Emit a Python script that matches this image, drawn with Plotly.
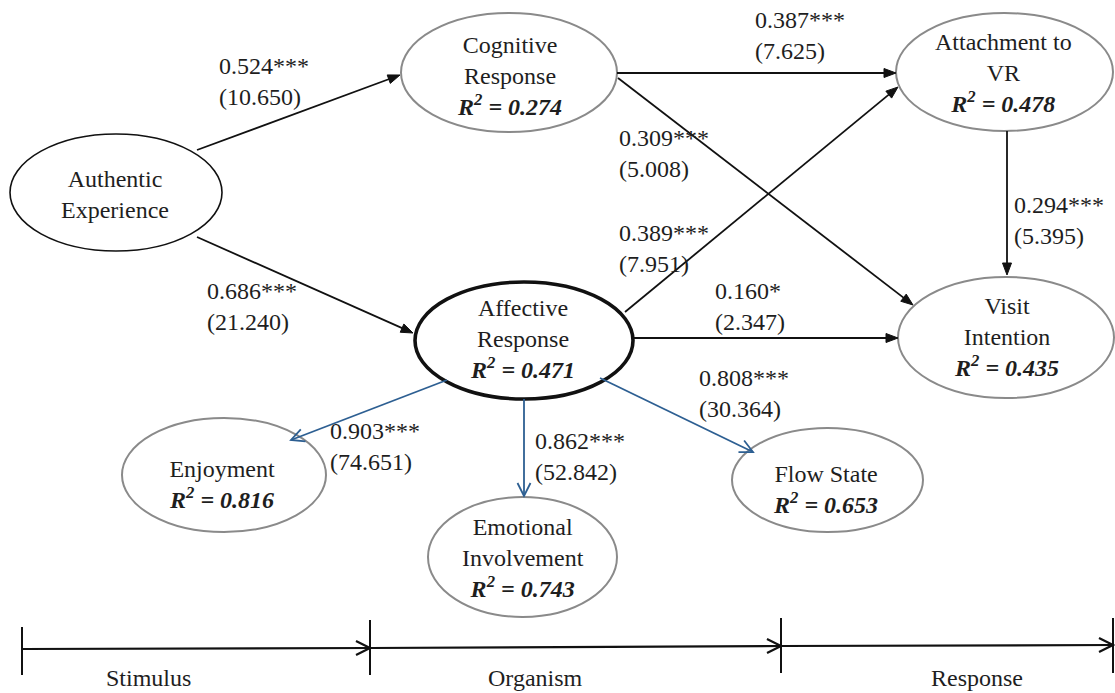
import math
import plotly.graph_objects as go

# ---------------- data ----------------
node_names = ["Authentic Experience", "Cognitive Response", "Affective Response",
              "Attachment to VR", "Visit Intention", "Enjoyment",
              "Emotional Involvement", "Flow State"]
node_lines = ["Authentic<br>Experience", "Cognitive<br>Response", "Affective<br>Response",
              "Attachment to<br>VR", "Visit<br>Intention", "Enjoyment",
              "Emotional<br>Involvement", "Flow State"]
node_r2 = [None, 0.274, 0.471, 0.478, 0.435, 0.816, 0.743, 0.653]

path_from = ["Authentic Experience", "Authentic Experience", "Cognitive Response",
             "Cognitive Response", "Affective Response", "Affective Response",
             "Attachment to VR", "Affective Response", "Affective Response",
             "Affective Response"]
path_to = ["Cognitive Response", "Affective Response", "Attachment to VR",
           "Visit Intention", "Attachment to VR", "Visit Intention",
           "Visit Intention", "Enjoyment", "Emotional Involvement", "Flow State"]
path_coef = [0.524, 0.686, 0.387, 0.309, 0.389, 0.160, 0.294, 0.903, 0.862, 0.808]
path_t = [10.650, 21.240, 7.625, 5.008, 7.951, 2.347, 5.395, 74.651, 52.842, 30.364]
path_sig = ["***", "***", "***", "***", "***", "*", "***", "***", "***", "***"]
path_kind = ["structural"] * 7 + ["measurement"] * 3

stages = ["Stimulus", "Organism", "Response"]

# ---------------- layout geometry (pixels) ----------------
W, H = 1115, 693
node_box = {
    "Authentic Experience": (10, 134, 222, 251),
    "Cognitive Response": (401, 13, 617, 132),
    "Affective Response": (415, 282, 633, 399),
    "Attachment to VR": (896, 13, 1113, 131),
    "Visit Intention": (898, 277, 1114, 398),
    "Enjoyment": (122, 418, 326, 532),
    "Emotional Involvement": (428, 497, 617, 617),
    "Flow State": (732, 428, 923, 532),
}
node_text_xy = {
    "Authentic Experience": (115, 194),
    "Cognitive Response": (509, 76),
    "Affective Response": (522, 339),
    "Attachment to VR": (1003, 73),
    "Visit Intention": (1006, 337),
    "Enjoyment": (222, 484),
    "Emotional Involvement": (523, 558),
    "Flow State": (825, 489),
}
node_style = {
    "Authentic Experience": ("#111111", 1.6),
    "Affective Response": ("#111111", 3.6),
}
default_node_style = ("#8a8a8a", 2.0)

# tail -> tip for each path
path_geom = [
    ((197, 150), (400, 75)),
    ((197, 237), (413, 333)),
    ((617, 73), (896, 73)),
    ((618, 78), (913, 305)),
    ((625, 312), (898, 87)),
    ((633, 338), (898, 338)),
    ((1007, 131), (1007, 275)),
    ((447, 380), (291, 440)),
    ((524, 399), (524, 496)),
    ((600, 378), (753, 452)),
]
label_xy = [(217, 58), (205, 283), (753, 12), (617, 130), (617, 225),
            (713, 283), (1012, 197), (328, 423), (533, 433), (697, 370)]

kind_color = {"structural": "#111111", "measurement": "#2d5f92"}

FONT = "Liberation Serif"
TXT = "#1e1e1e"
FS = 24

fig = go.Figure()
shapes = []
annotations = []


def add_arrow(tail, tip, color, width, filled, L=12, Wd=4.5):
    x0, y0 = tail
    x1, y1 = tip
    d = math.hypot(x1 - x0, y1 - y0)
    ux, uy = (x1 - x0) / d, (y1 - y0) / d
    bx, by = x1 - ux * L, y1 - uy * L
    px, py = -uy, ux
    lx, ly = bx + px * Wd, by + py * Wd
    rx, ry = bx - px * Wd, by - py * Wd
    end = (bx + ux * 2, by + uy * 2) if filled else (x1, y1)
    shapes.append(dict(type="line", xref="x", yref="y", x0=x0, y0=y0, x1=end[0], y1=end[1],
                       line=dict(color=color, width=width)))
    if filled:
        shapes.append(dict(type="path", xref="x", yref="y",
                           path=f"M{lx},{ly} L{x1},{y1} L{rx},{ry} Z",
                           fillcolor=color, line=dict(color=color, width=1)))
    else:
        shapes.append(dict(type="path", xref="x", yref="y",
                           path=f"M{lx},{ly} L{x1},{y1} L{rx},{ry}",
                           line=dict(color=color, width=width)))


# nodes
for name, lines, r2 in zip(node_names, node_lines, node_r2):
    x0, y0, x1, y1 = node_box[name]
    col, lw = node_style.get(name, default_node_style)
    shapes.append(dict(type="circle", xref="x", yref="y", x0=x0, y0=y0, x1=x1, y1=y1,
                       fillcolor="white", line=dict(color=col, width=lw), layer="below"))
    text = lines
    if r2 is not None:
        text += f"<br><b><i>R<sup>2</sup> = {r2:.3f}</i></b>"
    tx, ty = node_text_xy[name]
    annotations.append(dict(x=tx, y=ty, xref="x", yref="y", text=text, showarrow=False,
                            xanchor="center", yanchor="middle", align="center",
                            font=dict(family=FONT, size=FS, color=TXT)))

# paths
for i in range(len(path_coef)):
    tail, tip = path_geom[i]
    kind = path_kind[i]
    if kind == "structural":
        add_arrow(tail, tip, kind_color[kind], 1.8, True, L=12, Wd=4.5)
    else:
        add_arrow(tail, tip, kind_color[kind], 1.8, False, L=13, Wd=6.5)
    lx, ly = label_xy[i]
    annotations.append(dict(x=lx, y=ly - 7, xref="x", yref="y",
                            text=f"{path_coef[i]:.3f}{path_sig[i]}<br>({path_t[i]:.3f})",
                            showarrow=False, xanchor="left", yanchor="top", align="left",
                            font=dict(family=FONT, size=FS, color=TXT)))

# stage bar
stage_ticks = [(22, 627, 675, 649), (370, 620, 675, 648), (781, 618, 673, 646), (1113, 618, 673, 645)]
for (xa, _, _, ya), (xb, _, _, yb) in zip(stage_ticks[:-1], stage_ticks[1:]):
    add_arrow((xa, ya), (xb, yb), "#111111", 2.2, False, L=14, Wd=7)
for x, ya, yb, _ in stage_ticks:
    shapes.append(dict(type="line", xref="x", yref="y", x0=x, y0=ya, x1=x, y1=yb,
                       line=dict(color="#111111", width=2)))
stage_label_x = [148, 535, 977]
for s, x in zip(stages, stage_label_x):
    annotations.append(dict(x=x, y=678, xref="x", yref="y", text=s, showarrow=False,
                            xanchor="center", yanchor="middle",
                            font=dict(family=FONT, size=FS, color=TXT)))

fig.update_layout(
    width=W, height=H, margin=dict(l=0, r=0, t=0, b=0),
    paper_bgcolor="white", plot_bgcolor="white",
    xaxis=dict(range=[0, W], visible=False, fixedrange=True),
    yaxis=dict(range=[H, 0], visible=False, fixedrange=True),
    shapes=shapes, annotations=annotations, showlegend=False,
)
fig.write_html("out.html", config={"displayModeBar": False},
               post_script="document.body.style.margin='0px';")
